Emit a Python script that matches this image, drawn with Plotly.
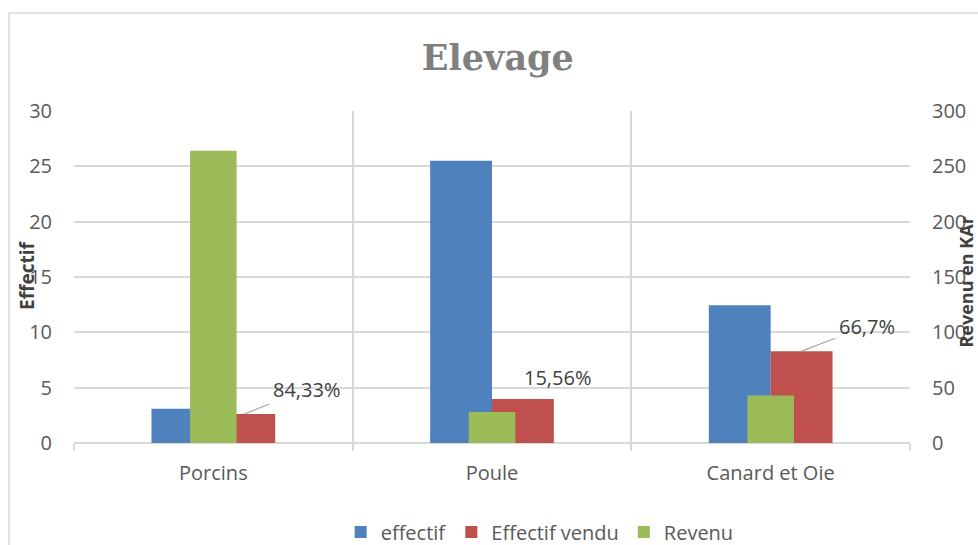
import plotly.graph_objects as go

# Catégories et séries
categories = ["Porcins", "Poule", "Canard et Oie"]
effectif = [3.1, 25.5, 12.45]
effectif_vendu = [2.61, 3.97, 8.3]
revenu = [264, 28, 43]
part_vendue = ["84,33%", "15,56%", "66,7%"]

BLUE = "#4F81BD"
RED = "#C0504D"
GREEN = "#9BBB59"
GRID = "#D9D9D9"
TXT = "#595959"
FONT = "Open Sans"

W_PRIM = 0.222   # largeur des barres de l'axe principal
W_SEC = 0.167    # largeur des barres de l'axe secondaire

fig = go.Figure()
fig.add_trace(go.Bar(
    x=categories, y=effectif, name="effectif",
    marker=dict(color=BLUE, line=dict(width=0)),
    width=W_PRIM, offset=-W_PRIM, yaxis="y",
))
fig.add_trace(go.Bar(
    x=categories, y=effectif_vendu, name="Effectif vendu",
    marker=dict(color=RED, line=dict(width=0)),
    width=W_PRIM, offset=0, yaxis="y",
))
fig.add_trace(go.Bar(
    x=categories, y=revenu, name="Revenu",
    marker=dict(color=GREEN, line=dict(width=0)),
    width=W_SEC, offset=-W_SEC / 2, yaxis="y2",
))

# Étiquettes de pourcentage au-dessus des barres "Effectif vendu"
label_offsets = [(62, -25, True), (35, 22, False), (65, -25, True)]
annotations = []
for i, (txt, val) in enumerate(zip(part_vendue, effectif_vendu)):
    dx, dy, arrow = label_offsets[i]
    a = dict(
        x=i + W_PRIM / 2, y=val, xref="x", yref="y", text=txt,
        font=dict(family=FONT, size=20, color="#404040"),
    )
    if arrow:
        a.update(showarrow=True, ax=dx, ay=dy, arrowhead=0, arrowwidth=1.2,
                 arrowcolor="#A6A6A6", standoff=0, startstandoff=2)
    else:
        a.update(showarrow=False, xshift=dx, yshift=dy)
    annotations.append(a)

# Titres des axes
annotations.append(dict(
    text="<b>Effectif</b>", textangle=-90, xref="paper", yref="paper",
    x=-0.0555, y=0.505, xanchor="center", yanchor="middle", showarrow=False,
    font=dict(family=FONT, size=19, color="#404040"),
))
annotations.append(dict(
    text="<b>Revenu en KAr</b>", textangle=-90, xref="paper", yref="paper",
    x=1.0665, y=0.485, xanchor="center", yanchor="middle", showarrow=False,
    font=dict(family=FONT, size=18, color="#404040"),
))

fig.update_layout(
    width=978, height=545,
    margin=dict(l=74, r=68, t=111, b=102, autoexpand=False),
    paper_bgcolor="white", plot_bgcolor="white",
    barmode="overlay",
    title=dict(
        text="Elevage", x=0.507, xref="paper", xanchor="center",
        y=1 - 58 / 545, yref="container", yanchor="middle",
        font=dict(family="DejaVu Serif", size=35, color="#808080", weight="bold"),
    ),
    xaxis=dict(
        type="category", tickson="boundaries", range=[-0.5, 2.5],
        showgrid=True, gridcolor=GRID, gridwidth=1.5,
        ticks="outside", ticklen=7, tickcolor=GRID, tickwidth=1.5,
        showline=False, zeroline=False,
        tickfont=dict(family=FONT, size=20, color=TXT),
        ticklabelstandoff=16,
    ),
    yaxis=dict(
        range=[0, 30], dtick=5, showgrid=True, gridcolor=GRID, gridwidth=1.5,
        zeroline=True, zerolinecolor=GRID, zerolinewidth=1.5,
        showline=False, ticks="",
        tickfont=dict(family=FONT, size=20, color=TXT),
        ticklabelstandoff=21,
    ),
    yaxis2=dict(
        range=[0, 300], dtick=50, overlaying="y", side="right",
        showgrid=False, zeroline=False, showline=False, ticks="",
        tickfont=dict(family=FONT, size=20, color=TXT),
        ticklabelstandoff=21,
    ),
    legend=dict(
        orientation="h", x=0.557, xanchor="center", y=-0.268, yanchor="middle",
        font=dict(family=FONT, size=20, color=TXT),
        itemwidth=30, traceorder="normal",
    ),
    annotations=annotations,
    shapes=[dict(
        type="rect", xref="paper", yref="paper",
        x0=-0.0778, x1=1.2, y0=-0.5, y1=1 + 98 / 332,
        line=dict(color=GRID, width=1.5), fillcolor="rgba(0,0,0,0)", layer="below",
    )],
)

fig.write_html("out.html")
